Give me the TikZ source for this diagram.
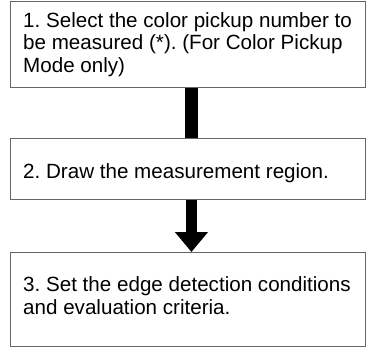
\documentclass[tikz,border=0pt]{standalone}
\usepackage{fontspec}
\setmainfont{Liberation Sans}
\usetikzlibrary{positioning,arrows.meta}

\tikzset{
  stepbox/.style={draw=black!60, line width=0.9pt, anchor=north west,
    minimum width=355pt, inner sep=0pt},
  steptext/.style={anchor=north west, inner sep=0pt, align=left,
    font=\fontsize{20.6}{22.8}\selectfont},
  flowbar/.style={line width=12.5pt, black},
}

\begin{document}
\frenchspacing
\begin{tikzpicture}[x=1pt,y=-1pt]
\useasboundingbox (0,0) rectangle (366,347);

% boxes
\node [stepbox, minimum height=86pt] (step1) at (10,1) {};
\node [stepbox, minimum height=61pt] (step2) at (10,138) {};
\node [stepbox, minimum height=94pt] (step3) at (10,252) {};

% texts
\node [steptext] (step1text) at ([shift={(13,10.9)}]step1.north west)
  {1. Select the color pickup number to\\be measured (*). (For Color Pickup\\Mode only)};
\node [steptext] (step2text) at ([shift={(13,25.4)}]step2.north west)
  {2. Draw the measurement region.};
\node [steptext] (step3text) at ([shift={(13,24.4)}]step3.north west)
  {3. Set the edge detection conditions\\and evaluation criteria.};

% connectors
\draw [flowbar] ([xshift=3.5pt]step1.south) -- ([xshift=3.5pt]step2.north);
\draw [flowbar, line width=11.5pt, -{Triangle[width=32pt,length=20pt]}]
  ([xshift=3.5pt]step2.south) -- ([xshift=3.5pt]step3.north);

\end{tikzpicture}
\end{document}
